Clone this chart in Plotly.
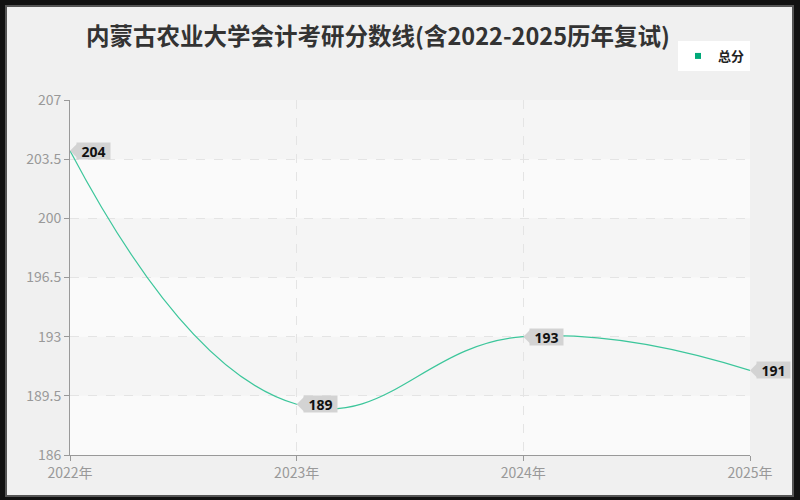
import plotly.graph_objects as go

# 内蒙古农业大学会计 考研复试分数线
years = [2022, 2023, 2024, 2025]
year_labels = ["2022年", "2023年", "2024年", "2025年"]
scores = [204, 189, 193, 191]
y_ticks = [186, 189.5, 193, 196.5, 200, 203.5, 207]
y_tick_labels = ["186", "189.5", "193", "196.5", "200", "203.5", "207"]

FONT = "Noto Sans CJK SC"
LINE_COLOR = "#3cc69b"
LEGEND_COLOR = "#00a878"
LABEL_BG = "#d3d3d3"

fig = go.Figure()
fig.add_trace(
    go.Scatter(
        x=years,
        y=scores,
        mode="lines",
        name="总分",
        showlegend=False,
        hoverinfo="skip",
        line=dict(color=LINE_COLOR, width=1.2, shape="spline", smoothing=1.3),
        cliponaxis=False,
    )
)
# legend entry only (square swatch like the original)
fig.add_trace(
    go.Scatter(
        x=[None], y=[None], mode="markers", name="<b>总分</b>",
        marker=dict(symbol="square", size=6, color=LEGEND_COLOR),
    )
)

# value callouts: grey tag whose arrowhead points at the value
for x, y in zip(years, scores):
    fig.add_annotation(
        x=x, y=y, text=f"<b>{y}</b>", showarrow=True,
        arrowhead=1, arrowsize=2.6, arrowwidth=1, arrowcolor=LABEL_BG,
        ax=23.5, ay=0, standoff=0,
        bgcolor=LABEL_BG, borderpad=0, width=33, height=16, align="center",
        font=dict(size=14, color="#111", family="Noto Sans"),
    )

# outer frame and plot background
fig.add_shape(
    type="rect", xref="paper", yref="paper", layer="below",
    x0=-64 / 680, x1=723 / 680, y0=-41 / 355, y1=449 / 355,
    fillcolor="#f0f0f0", line=dict(color="#555", width=2),
)
fig.add_shape(
    type="rect", xref="paper", yref="paper", layer="below",
    x0=0, x1=1, y0=0, y1=1, fillcolor="#fafafa", line=dict(width=0),
)
# alternating split-area bands
for lo, hi in zip(y_ticks[1::2], y_ticks[2::2]):
    fig.add_shape(
        type="rect", xref="paper", yref="y", layer="below",
        x0=0, x1=1, y0=lo, y1=hi, fillcolor="#f5f5f5", line=dict(width=0),
    )

fig.update_layout(
    width=800,
    height=500,
    margin=dict(l=70, r=50, t=100, b=45),
    paper_bgcolor="#111",
    plot_bgcolor="rgba(0,0,0,0)",
    font=dict(family=FONT, color="#999"),
    title=dict(
        text="<b>内蒙古农业大学会计考研分数线(含2022-2025历年复试)</b>",
        x=0.4725, xanchor="center", y=0.926, yanchor="middle",
        font=dict(size=23.5, color="#333", family=FONT),
    ),
    showlegend=True,
    legend=dict(
        x=1.0, xanchor="right", y=1.124, yanchor="middle",
        bgcolor="#ffffff", font=dict(size=13, color="#222", family=FONT),
        itemwidth=30, borderwidth=0,
    ),
)
fig.update_xaxes(
    range=[2022, 2025], tickvals=years, ticktext=year_labels,
    showline=True, linecolor="#999", linewidth=1,
    ticks="outside", ticklen=5, tickcolor="#999",
    showgrid=True, gridcolor="#e4e4e4", griddash="dash", zeroline=False,
    tickfont=dict(size=14, color="#999"),
)
fig.update_yaxes(
    range=[186, 207], tickvals=y_ticks, ticktext=y_tick_labels,
    showline=True, linecolor="#999", linewidth=1,
    ticks="outside", ticklen=5, tickcolor="#999",
    showgrid=True, gridcolor="#e4e4e4", griddash="dash", zeroline=False,
    tickfont=dict(size=14, color="#999"),
)

fig.write_html(
    "out.html",
    config={"displayModeBar": False},
    post_script="document.body.style.margin='0px';",
)
